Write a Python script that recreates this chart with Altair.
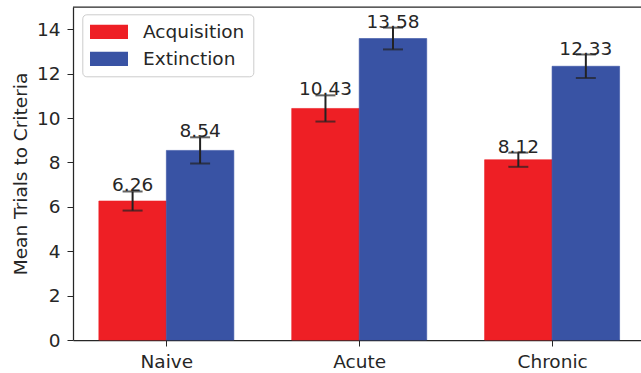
import altair as alt
import pandas as pd

# Mean trials to criteria per group and phase, with error bar half-widths
groups = ["Naive", "Acute", "Chronic"]
phases = ["Acquisition", "Extinction"]
acquisition_means = [6.26, 10.43, 8.12]
extinction_means = [8.54, 13.58, 12.33]
acquisition_err = [0.43, 0.59, 0.32]
extinction_err = [0.59, 0.49, 0.53]
phase_colors = ["#EE1F25", "#3953A4"]

bar_width = 0.35
rows = []
for i, g in enumerate(groups):
    for j, (p, means, errs) in enumerate(
        [("Acquisition", acquisition_means, acquisition_err),
         ("Extinction", extinction_means, extinction_err)]
    ):
        center = i + (j - 0.5) * bar_width
        m, e = means[i], errs[i]
        rows.append({
            "group": g, "phase": p, "mean": m, "base": 0,
            "x": center, "x0": center - bar_width / 2, "x1": center + bar_width / 2,
            "lo": m - e, "hi": m + e, "label": f"{m:.2f}",
        })
df = pd.DataFrame(rows)

label_expr = "datum.value == 0 ? 'Naive' : datum.value == 1 ? 'Acute' : datum.value == 2 ? 'Chronic' : ''"
x_scale = alt.Scale(domain=[-0.484, 2.461], nice=False, zero=False)
y_scale = alt.Scale(domain=[0, 15], nice=False)
color_scale = alt.Scale(domain=phases, range=phase_colors)
ink = "#262626"
font = "DejaVu Sans"
fs = 18.5

x_axis = alt.Axis(values=[0, 1, 2], labelExpr=label_expr, title=None, grid=False,
                  labelFontSize=fs, labelColor=ink, labelFont=font,
                  tickSize=6, tickColor=ink, domainColor=ink, domainWidth=1.25,
                  labelBaseline="alphabetic", labelPadding=21)
y_axis = alt.Axis(values=list(range(0, 15, 2)), title="Mean Trials to Criteria", grid=False,
                  labelFontSize=fs, labelColor=ink, labelFont=font,
                  tickSize=6, tickColor=ink, domainColor=ink, domainWidth=1.25,
                  labelPadding=7, titleFontSize=fs, titleColor=ink, titleFont=font,
                  titleFontWeight="normal", titleBaseline="alphabetic",
                  titleX=-47, titleAngle=-90)

base = alt.Chart(df)

bars = base.mark_bar(strokeWidth=0.6).encode(
    x=alt.X("x0:Q", scale=x_scale, axis=x_axis),
    x2="x1:Q",
    y=alt.Y("mean:Q", scale=y_scale, axis=y_axis),
    y2="base:Q",
    color=alt.Color("phase:N", scale=color_scale, legend=alt.Legend(title=None)),
    stroke=alt.Stroke("phase:N", scale=color_scale, legend=None),
)

err_line = base.mark_rule(color="#222222", strokeWidth=2).encode(
    x="x:Q", y="lo:Q", y2="hi:Q"
)
err_lo = base.mark_tick(color="#222222", orient="horizontal", size=20, thickness=2).encode(
    x="x:Q", y="lo:Q"
)
err_hi = base.mark_tick(color="#222222", orient="horizontal", size=20, thickness=2).encode(
    x="x:Q", y="hi:Q"
)

labels = base.mark_text(fontSize=fs, color=ink, font=font, baseline="alphabetic", dy=0).encode(
    x="x:Q", y="hi:Q", text="label:N"
)

top_spine = alt.Chart(pd.DataFrame({"top": [15]})).mark_rule(
    color=ink, strokeWidth=1.25
).encode(y="top:Q")

chart = (
    alt.layer(bars, err_line, err_lo, err_hi, labels, top_spine)
    .properties(
        width=568, height=333,
        autosize=alt.AutoSizeParams(type="none"),
        padding={"left": 73, "top": 7, "right": 0, "bottom": 33},
    )
    .configure_view(stroke=None)
    .configure_legend(
        orient="none", legendX=9.3, legendY=7.3,
        padding=8, strokeColor="#cccccc", fillColor="white", cornerRadius=4,
        labelFontSize=fs, labelColor=ink, labelFont=font, labelOffset=24.5,
        symbolType="M-2,-0.75L2,-0.75L2,0.75L-2,0.75Z", symbolSize=361, symbolOffset=9.2,
        symbolStrokeWidth=0, symbolOpacity=1, rowPadding=8,
    )
)

chart.save("out.html", embed_options={"renderer": "svg", "actions": False})
